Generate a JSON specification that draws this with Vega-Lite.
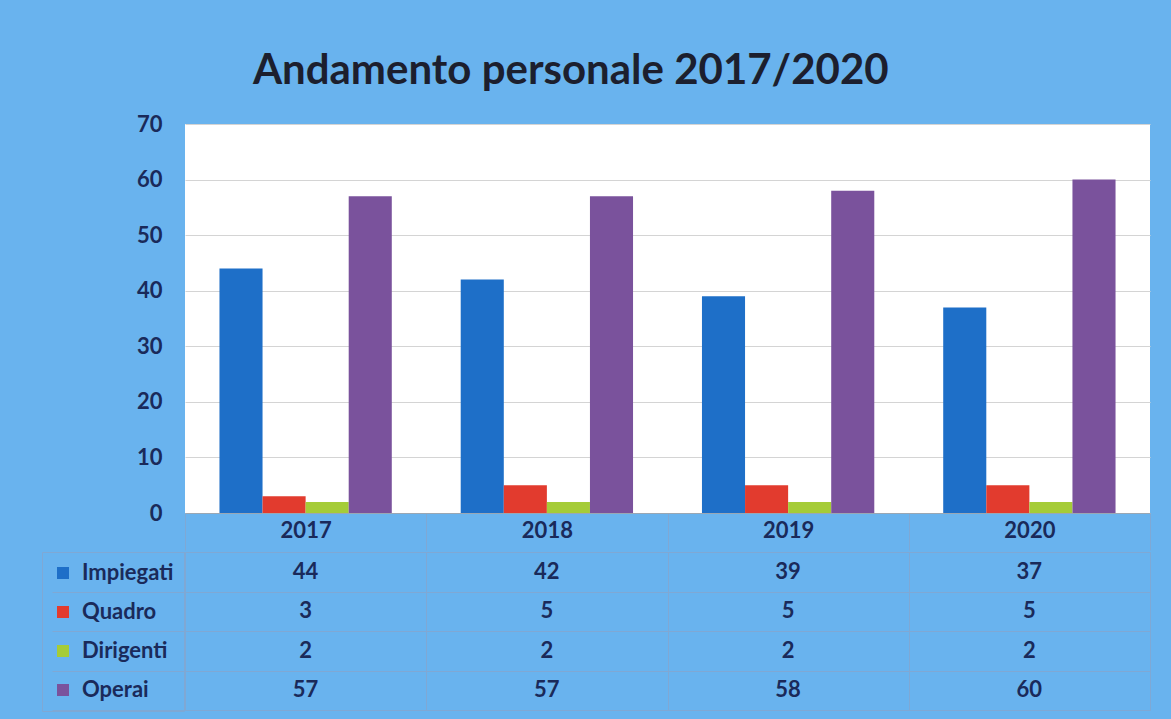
{
  "$schema": "https://vega.github.io/schema/vega-lite/v6.json",
  "background": "#69b3ee",
  "padding": {"left": 41, "top": 50, "right": 21, "bottom": 9},
  "title": {"text": "Andamento personale 2017/2020", "fontSize": 42, "font": "Lato", "fontWeight": "bold", "color": "#1c1f2e", "anchor": "middle", "offset": 20, "dx": -25},
  "datasets": {
    "personale": [
      {"anno": "2017", "categoria": "Impiegati", "valore": 44},
      {"anno": "2017", "categoria": "Quadro", "valore": 3},
      {"anno": "2017", "categoria": "Dirigenti", "valore": 2},
      {"anno": "2017", "categoria": "Operai", "valore": 57},
      {"anno": "2018", "categoria": "Impiegati", "valore": 42},
      {"anno": "2018", "categoria": "Quadro", "valore": 5},
      {"anno": "2018", "categoria": "Dirigenti", "valore": 2},
      {"anno": "2018", "categoria": "Operai", "valore": 57},
      {"anno": "2019", "categoria": "Impiegati", "valore": 39},
      {"anno": "2019", "categoria": "Quadro", "valore": 5},
      {"anno": "2019", "categoria": "Dirigenti", "valore": 2},
      {"anno": "2019", "categoria": "Operai", "valore": 58},
      {"anno": "2020", "categoria": "Impiegati", "valore": 37},
      {"anno": "2020", "categoria": "Quadro", "valore": 5},
      {"anno": "2020", "categoria": "Dirigenti", "valore": 2},
      {"anno": "2020", "categoria": "Operai", "valore": 60}
    ]
  },
  "data": {"name": "personale"},
  "spacing": 0,
  "resolve": {"legend": {"color": "independent"}},
  "config": {"view": {"stroke": null}},
  "vconcat": [
    {
      "width": 965,
      "height": 389,
      "view": {"fill": "white", "stroke": null},
      "mark": {"type": "bar"},
      "encoding": {
        "x": {
          "field": "anno", "type": "nominal",
          "scale": {"paddingInner": 0, "paddingOuter": 0},
          "axis": {"title": null, "labelAngle": 0, "labelFontSize": 22, "labelFont": "Lato", "labelFontWeight": "bold", "labelColor": "#1a2a5a", "tickBand": "extent", "tickSize": 37, "tickColor": "#7fa8d4", "labelPadding": -30, "domainColor": "#9aa7b4"}
        },
        "xOffset": {"field": "categoria", "type": "nominal", "sort": ["Impiegati", "Quadro", "Dirigenti", "Operai"], "scale": {"paddingInner": 0, "paddingOuter": 0.8}},
        "y": {
          "field": "valore", "type": "quantitative",
          "scale": {"domain": [0, 70]},
          "axis": {"title": null, "values": [0, 10, 20, 30, 40, 50, 60, 70], "labelFontSize": 22, "labelFont": "Lato", "labelFontWeight": "bold", "labelColor": "#1a2a5a", "labelPadding": 23, "ticks": false, "domain": false, "gridColor": "#d4d4d4"}
        },
        "color": {
          "field": "categoria", "type": "nominal",
          "scale": {"domain": ["Impiegati", "Quadro", "Dirigenti", "Operai"], "range": ["#1e6fc8", "#e23b2e", "#a5cc38", "#7a529c"]},
          "legend": null
        }
      }
    },
    {
      "width": 965,
      "height": 158,
      "view": {"fill": null, "stroke": "#7fa8d4"},
      "encoding": {
        "x": {"field": "anno", "type": "nominal", "scale": {"type": "band", "paddingInner": 0, "paddingOuter": 0},
          "axis": {"title": null, "labels": false, "ticks": false, "domain": false, "grid": true, "tickBand": "extent", "gridColor": "#7fa8d4"}},
        "y": {"field": "categoria", "type": "nominal", "sort": ["Impiegati", "Quadro", "Dirigenti", "Operai"], "scale": {"type": "band", "paddingInner": 0, "paddingOuter": 0},
          "axis": {"title": null, "labels": false, "ticks": true, "tickBand": "extent", "tickSize": 133, "tickColor": "#7fa8d4", "grid": true, "gridColor": "#7fa8d4", "domain": false}}
      },
      "layer": [
        {
          "mark": {"type": "text", "font": "Lato", "fontSize": 22, "fontWeight": "bold", "color": "#1a2a5a"},
          "encoding": {"text": {"field": "valore", "type": "quantitative"}}
        },
        {
          "transform": [{"filter": "false"}],
          "mark": {"type": "square"},
          "encoding": {
            "color": {
              "field": "categoria", "type": "nominal",
              "legend": {"orient": "left", "title": null, "symbolType": "square", "symbolSize": 144, "symbolStrokeWidth": 0, "symbolOpacity": 1, "labelFontSize": 22, "labelFont": "Lato", "labelFontWeight": "bold", "labelColor": "#1a2a5a", "labelOffset": 8, "rowPadding": 17, "padding": 10, "offset": -133, "strokeColor": "#7fa8d4"}
            }
          }
        }
      ]
    }
  ]
}
